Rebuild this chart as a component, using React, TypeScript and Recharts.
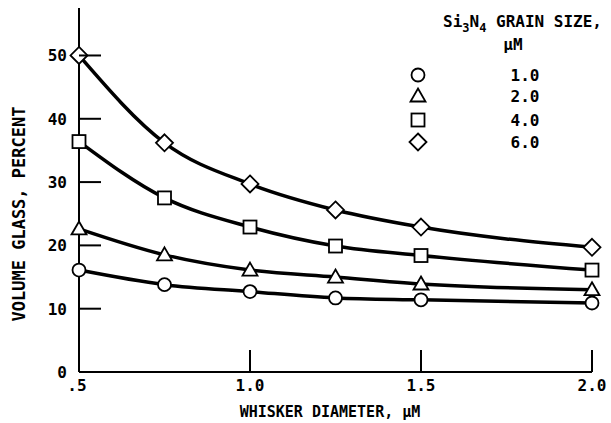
import { LineChart, Line, XAxis, YAxis } from "recharts";

// whisker diameter, um
const diameters = [0.5, 0.75, 1.0, 1.25, 1.5, 2.0];
// volume glass, percent, per Si3N4 grain size
const grain10 = [16.1, 13.8, 12.7, 11.7, 11.4, 10.9];
const grain20 = [22.6, 18.5, 16.1, 15.0, 13.9, 13.0];
const grain40 = [36.4, 27.5, 22.9, 19.9, 18.4, 16.1];
const grain60 = [50.0, 36.2, 29.7, 25.6, 22.9, 19.7];

const xTicks = [0.5, 1.0, 1.5, 2.0];
const yTicks = [0, 10, 20, 30, 40, 50];

const series = [
  { key: "g10", label: "1.0", shape: "circle", values: grain10 },
  { key: "g20", label: "2.0", shape: "triangle", values: grain20 },
  { key: "g40", label: "4.0", shape: "square", values: grain40 },
  { key: "g60", label: "6.0", shape: "diamond", values: grain60 },
];

const data = diameters.map((d, i) => {
  const row: any = { d };
  for (const s of series) row[s.key] = s.values[i];
  return row;
});

const FONT = "'DejaVu Sans Mono', monospace";

function Marker({ shape, cx, cy }: { shape: string; cx: number; cy: number }) {
  const st = { fill: "#fff", stroke: "#000", strokeWidth: 1.8 };
  if (shape === "circle") return <circle cx={cx} cy={cy} r={6.5} {...st} />;
  if (shape === "triangle")
    return <polygon points={`${cx},${cy - 7.5} ${cx + 7.5},${cy + 5.5} ${cx - 7.5},${cy + 5.5}`} {...st} />;
  if (shape === "square") return <rect x={cx - 6.5} y={cy - 6.5} width={13} height={13} {...st} />;
  return <polygon points={`${cx},${cy - 8.5} ${cx + 8.5},${cy} ${cx},${cy + 8.5} ${cx - 8.5},${cy}`} {...st} />;
}

function XTick({ x, y, payload }: any) {
  const v = Number(payload.value);
  const txt = v === 0.5 ? ".5" : v.toFixed(1);
  return (
    <g>
      {v !== 0.5 && <line x1={x} y1={y} x2={x} y2={y - 22} stroke="#000" strokeWidth={2} />}
      <text x={v === 0.5 ? x - 2 : x} y={y + 19} textAnchor="middle" fontFamily={FONT} fontSize={16} fontWeight="bold" fill="#000">
        {txt}
      </text>
    </g>
  );
}

function YTick({ x, y, payload }: any) {
  const v = Number(payload.value);
  return (
    <g>
      {v !== 0 && <line x1={x} y1={y} x2={x + 22} y2={y} stroke="#000" strokeWidth={2} />}
      <text x={x - 12} y={y + 6} textAnchor="end" fontFamily={FONT} fontSize={16} fontWeight="bold" fill="#000">
        {v}
      </text>
    </g>
  );
}

function LegendBox() {
  const rows = [75, 96, 120, 142];
  const txt = { fontFamily: FONT, fontSize: 16, fontWeight: "bold" as const, fill: "#000" };
  return (
    <svg width={611} height={160} style={{ position: "absolute", left: 0, top: 0 }}>
      <text x={443} y={27} {...txt}>
        Si<tspan fontSize={12} dy={5}>3</tspan>
        <tspan dy={-5}>N</tspan>
        <tspan fontSize={12} dy={5}>4</tspan>
        <tspan dy={-5}> GRAIN SIZE,</tspan>
      </text>
      <text x={513} y={50} textAnchor="middle" {...txt}>
        μM
      </text>
      {series.map((s, i) => (
        <g key={s.key}>
          <Marker shape={s.shape} cx={418} cy={rows[i]} />
          <text x={525} y={rows[i] + 6} textAnchor="middle" {...txt}>
            {s.label}
          </text>
        </g>
      ))}
    </svg>
  );
}

export default function App() {
  return (
    <div style={{ position: "absolute", left: 0, top: 0, width: 611, height: 423, background: "#fff" }}>
      <LineChart width={611} height={423} data={data} margin={{ top: 8, right: 19, left: 78, bottom: 50 }}>
        <XAxis
          dataKey="d"
          type="number"
          domain={[0.5, 2.0]}
          ticks={xTicks}
          height={1}
          tickSize={0}
          tickMargin={0}
          tickLine={false}
          tick={<XTick />}
          axisLine={{ stroke: "#000", strokeWidth: 2 }}
          label={{
            content: () => (
              <text x={330} y={417} textAnchor="middle" fontFamily={FONT} fontSize={15} fontWeight="bold" fill="#000">
                WHISKER DIAMETER, μM
              </text>
            ),
          }}
        />
        <YAxis
          type="number"
          domain={[0, 57.5]}
          ticks={yTicks}
          width={1}
          tickSize={0}
          tickMargin={0}
          tickLine={false}
          tick={<YTick />}
          axisLine={{ stroke: "#000", strokeWidth: 2 }}
          label={{
            content: () => (
              <text
                x={25}
                y={214}
                transform="rotate(-90 25 214)"
                textAnchor="middle"
                fontFamily={FONT}
                fontSize={17}
                fontWeight="bold"
                fill="#000"
              >
                VOLUME GLASS, PERCENT
              </text>
            ),
          }}
        />
        {series.map((s) => (
          <Line
            key={s.key}
            dataKey={s.key}
            type="monotone"
            stroke="#000"
            strokeWidth={3.5}
            isAnimationActive={false}
            dot={(p: any) => <Marker key={`${s.key}-${p.index}`} shape={s.shape} cx={p.cx} cy={p.cy} />}
            activeDot={false}
          />
        ))}
      </LineChart>
      <LegendBox />
    </div>
  );
}
